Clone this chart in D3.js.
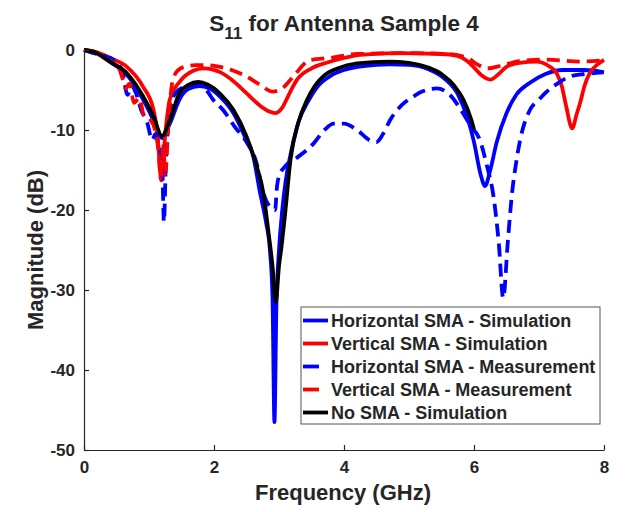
<!DOCTYPE html>
<html><head><meta charset="utf-8">
<script src="https://cdn.jsdelivr.net/npm/d3@7"></script>
<style>body{margin:0;background:#fff;} text{font-family:"Liberation Sans",Arial,sans-serif;font-weight:bold;fill:#262626;}</style>
</head><body>
<svg id="chart" width="625" height="512"></svg>
<script>
// Frequency (GHz) / magnitude (dB) pairs
const horizSimF = [0,0.2,0.4,0.66,0.91,1.07,1.2,1.32,1.48,1.6,1.78,1.95,2.1,2.3,2.5,2.6,2.71,2.8,2.86,2.9,2.93,2.96,3.0,3.05,3.1,3.2,3.3,3.45,3.6,3.8,4.0,4.3,4.7,5.0,5.3,5.55,5.75,5.9,6.0,6.1,6.17,6.25,6.35,6.5,6.65,6.86,7.1,7.37,7.7,8.0];
const horizSimDb = [0,-0.45,-1.5,-3.1,-6.2,-8.8,-11,-9.2,-6,-4.9,-4.5,-4.9,-5.9,-7.9,-11.3,-13.2,-17.9,-21.5,-25,-31,-46.5,-32,-25,-20,-16.5,-12.2,-9,-6.4,-4.5,-3.2,-2.5,-2,-1.8,-1.85,-2.4,-3.6,-5.5,-8.5,-11.5,-15.5,-17,-15,-11.5,-7.9,-5.6,-4.1,-3,-2.5,-2.5,-2.8];

const vertSimF = [0,0.2,0.4,0.66,0.91,1.07,1.13,1.19,1.25,1.32,1.48,1.68,1.84,2.1,2.3,2.5,2.7,2.85,2.94,3.05,3.15,3.27,3.5,3.73,4.0,4.25,4.8,5.5,5.73,5.9,5.99,6.12,6.25,6.38,6.5,6.7,6.96,7.15,7.27,7.35,7.42,7.51,7.58,7.63,7.7,7.78,7.9,8.0];
const vertSimDb = [0,-0.3,-1.0,-2.1,-4.6,-7.5,-10.5,-16.3,-10.5,-6.2,-3.9,-2.6,-2.3,-2.8,-3.9,-5.4,-6.9,-7.7,-7.9,-7.2,-5.6,-3.8,-2.3,-1.6,-1.0,-0.6,-0.4,-0.5,-0.7,-1.4,-2.1,-3.2,-3.7,-3.0,-2.1,-1.6,-1.45,-2.0,-2.9,-4.5,-7.1,-9.8,-8,-6.7,-4.5,-2.9,-1.8,-1.25];

const horizMeasF = [0,0.15,0.3,0.46,0.59,0.67,0.73,0.8,0.88,0.97,1.05,1.1,1.15,1.2,1.23,1.26,1.3,1.4,1.55,1.75,1.9,1.99,2.14,2.32,2.5,2.65,2.76,2.85,2.94,2.97,3.0,3.1,3.27,3.53,3.7,3.84,4.0,4.2,4.4,4.5,4.6,4.71,4.9,5.07,5.2,5.43,5.55,5.63,5.8,5.95,6.09,6.2,6.3,6.38,6.45,6.52,6.58,6.65,6.71,6.86,7.0,7.12,7.3,7.48,7.7,7.99];
const horizMeasDb = [0,-0.4,-0.7,-1.25,-2.7,-5.6,-4.5,-5.4,-7.5,-9,-11.25,-10.5,-12,-13.5,-21.5,-14,-9,-5.5,-4.6,-4.4,-5.2,-6.25,-7.5,-9.6,-11.5,-14,-17.9,-19.5,-20,-17,-15.8,-14.5,-13.5,-11.7,-10,-9.2,-9.2,-10,-11.3,-11.5,-10.5,-8.75,-6.8,-5.8,-5.2,-4.8,-5.1,-5.6,-7.5,-9.5,-11.25,-14.5,-18.3,-24,-31,-24,-18.3,-14,-11.25,-7.5,-6.2,-5.2,-4.1,-3.3,-3.0,-2.8];

const vertMeasF = [0,0.15,0.31,0.45,0.55,0.59,0.64,0.7,0.77,0.85,0.92,1.0,1.1,1.15,1.18,1.22,1.25,1.3,1.36,1.45,1.6,1.71,1.9,2.09,2.3,2.45,2.7,2.9,3.05,3.2,3.48,3.78,4.2,5.0,5.6,5.9,6.05,6.2,6.4,6.7,7.12,7.63,8.0];
const vertMeasDb = [0,-0.2,-1.0,-1.6,-2.5,-3.5,-4.8,-4.2,-6.6,-6.0,-8.1,-8.5,-10.2,-13,-16,-12,-15.5,-9,-4,-2.5,-2.0,-1.9,-1.9,-2.1,-2.6,-3.1,-4.3,-5.2,-4.8,-3.5,-1.25,-1.0,-0.5,-0.4,-0.5,-1.0,-1.8,-2.3,-2.0,-1.4,-1.2,-1.45,-1.3];

const noSmaF = [0,0.2,0.4,0.66,0.91,1.07,1.2,1.32,1.48,1.6,1.76,1.9,2.1,2.3,2.5,2.66,2.76,2.84,2.9,2.95,3.0,3.04,3.09,3.18,3.3,3.43,3.55,3.68,3.9,4.2,4.7,5.0,5.3,5.5,5.7,5.84,5.95,6.0];
const noSmaDb = [0,-0.4,-1.45,-2.9,-5.8,-8.3,-10.75,-8.75,-5.2,-4.4,-4.0,-4.3,-5.5,-7.5,-10.8,-14.6,-17.9,-22.9,-27,-31.5,-27,-24.5,-20.8,-13.5,-9,-6.25,-4.5,-3.3,-2.3,-1.67,-1.45,-1.6,-2.2,-3.0,-4.5,-6.25,-8.5,-9.9];

const seriesNames = ["Horizontal SMA - Simulation","Vertical SMA - Simulation","Horizontal SMA - Measurement","Vertical SMA - Measurement","No SMA - Simulation"];
const seriesColors = ["#0000ff","#ff0000","#0000ff","#ff0000","#000000"];
const seriesDashed = [false,false,true,true,false];
const seriesF = [horizSimF, vertSimF, horizMeasF, vertMeasF, noSmaF];
const seriesDb = [horizSimDb, vertSimDb, horizMeasDb, vertMeasDb, noSmaDb];
const xTicks = [0,2,4,6,8];
const yTicks = [0,-10,-20,-30,-40,-50];

const svg = d3.select("#chart");
const L = 84, R = 604, T = 50, B = 450;
const x = d3.scaleLinear().domain([0,8]).range([L,R]);
const y = d3.scaleLinear().domain([-50,0]).range([B,T]);

const line = d3.line().x(d => x(d[0])).y(d => y(d[1])).curve(d3.curveMonotoneX);
const plot = svg.append("g");
seriesF.forEach((fs, i) => {
  const pts = fs.map((f, k) => [f, seriesDb[i][k]]);
  plot.append("path").datum(pts).attr("d", line)
    .attr("fill","none").attr("stroke", seriesColors[i]).attr("stroke-width", 3.8)
    .attr("stroke-linejoin","round")
    .attr("stroke-dasharray", seriesDashed[i] ? "13,7" : null);
});

// axes
const xAxis = svg.append("g").attr("transform", `translate(0,${B})`)
  .call(d3.axisBottom(x).tickValues(xTicks).tickSizeInner(-5).tickSizeOuter(0).tickPadding(11).tickFormat(d3.format("d")));
const yAxis = svg.append("g").attr("transform", `translate(${L},0)`)
  .call(d3.axisLeft(y).tickValues(yTicks).tickSizeInner(-5).tickSizeOuter(0).tickPadding(9).tickFormat(d => d === 0 ? "0" : "-" + Math.abs(d)));
[xAxis, yAxis].forEach(g => {
  g.select(".domain").attr("stroke","#262626").attr("stroke-width",1.2);
  g.selectAll(".tick line").attr("stroke","#262626").attr("stroke-width",1.2);
  g.selectAll(".tick text").style("font-size","17px").attr("fill","#262626");
});

// title
const title = svg.append("text").attr("x", 344).attr("y", 31).attr("text-anchor","middle").style("font-size","22.5px").attr("fill","#000");
title.append("tspan").text("S");
title.append("tspan").attr("dy", 8).style("font-size","17px").text("11");
title.append("tspan").attr("dy", -8).text(" for Antenna Sample 4");

svg.append("text").attr("x", 343).attr("y", 500).attr("text-anchor","middle").style("font-size","22px").text("Frequency (GHz)");
svg.append("text").attr("transform","translate(43,250) rotate(-90)").attr("text-anchor","middle").style("font-size","22px").text("Magnitude (dB)");

// legend
const lg = svg.append("g");
lg.append("rect").attr("x",301).attr("y",307).attr("width",299).attr("height",117).attr("fill","#fff").attr("stroke","#555").attr("stroke-width",1);
seriesNames.forEach((n, i) => {
  const cy = 320.5 + i * 23;
  lg.append("line").attr("x1",303).attr("x2",328).attr("y1",cy).attr("y2",cy)
    .attr("stroke",seriesColors[i]).attr("stroke-width",3.8)
    .attr("stroke-dasharray", seriesDashed[i] ? "16,20" : null);
  lg.append("text").attr("x",331).attr("y",cy+6.5).style("font-size","18px").attr("fill","#000").text(n);
});
</script>
</body></html>
